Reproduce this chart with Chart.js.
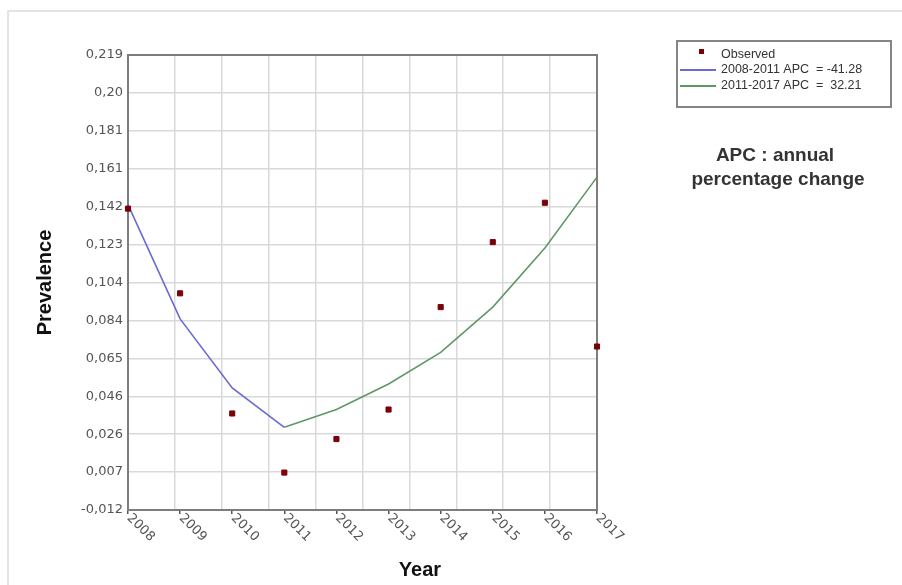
<!DOCTYPE html>
<html>
<head>
<meta charset="utf-8">
<title>Prevalence - APC</title>
<script src="https://cdn.jsdelivr.net/npm/chart.js@4.4.1/dist/chart.umd.min.js"></script>
<style>
  html, body { margin: 0; padding: 0; background: #fff; }
  #wrap { width: 902px; height: 585px; position: relative; }
</style>
</head>
<body>
<div id="wrap"><canvas id="apcChart" width="902" height="585"></canvas></div>
<script>
// data
var years = [2008, 2009, 2010, 2011, 2012, 2013, 2014, 2015, 2016, 2017];
var observed = [0.141, 0.098, 0.037, 0.007, 0.024, 0.039, 0.091, 0.124, 0.144, 0.071];

var fitYears1 = [2008, 2009, 2010, 2011];
var fit1 = [0.143, 0.085, 0.050, 0.030];

var fitYears2 = [2011, 2012, 2013, 2014, 2015, 2016, 2017];
var fit2 = [0.030, 0.039, 0.052, 0.068, 0.091, 0.121, 0.157];

var yTickLabels = ['-0,012', '0,007', '0,026', '0,046', '0,065', '0,084', '0,104',
                   '0,123', '0,142', '0,161', '0,181', '0,20', '0,219'];
var seriesLabels = ['Observed', '2008-2011 APC  = -41.28', '2011-2017 APC  =  32.21'];
var noteLines = ['APC : annual', 'percentage change'];

function toPoints(xs, ys){
  return xs.map(function(x, i){ return {x: x, y: ys[i]}; });
}

var tickFont = '13px "DejaVu Sans", sans-serif';

var extrasPlugin = {
  id: 'extras',
  beforeDatasetsDraw: function(chart){
    var ctx = chart.ctx, a = chart.chartArea;
    ctx.save();
    // plot frame
    ctx.strokeStyle = '#7d7d7d';
    ctx.lineWidth = 2;
    ctx.strokeRect(a.left, a.top, a.right - a.left, a.bottom - a.top);
    ctx.restore();
  },
  afterDraw: function(chart){
    var ctx = chart.ctx, a = chart.chartArea;
    var xs = chart.scales.x;
    ctx.save();

    // light outer frame of the picture
    ctx.strokeStyle = '#dcdcdc';
    ctx.lineWidth = 1.5;
    ctx.beginPath();
    ctx.moveTo(8, 585); ctx.lineTo(8, 11); ctx.lineTo(902, 11);
    ctx.stroke();

    // rotated year labels
    ctx.fillStyle = '#555';
    ctx.font = tickFont;
    ctx.textAlign = 'left';
    ctx.textBaseline = 'middle';
    years.forEach(function(yr){
      var px = xs.getPixelForValue(yr);
      ctx.save();
      ctx.translate(px + 1, a.bottom + 6);
      ctx.rotate(Math.PI / 4);
      ctx.fillText(String(yr), 0, 0);
      ctx.restore();
    });

    // x title
    ctx.fillStyle = '#111';
    ctx.font = 'bold 20px "Liberation Sans", Arial, sans-serif';
    ctx.textAlign = 'center';
    ctx.textBaseline = 'middle';
    ctx.fillText('Year', 420, 570);

    // legend box
    var ds = chart.data.datasets;
    ctx.strokeStyle = '#858585';
    ctx.lineWidth = 2;
    ctx.strokeRect(677, 41, 214, 66);
    ctx.font = '12.5px "Liberation Sans", Arial, sans-serif';
    ctx.textAlign = 'left';
    ctx.fillStyle = '#333';
    ctx.fillStyle = ds[0].backgroundColor;
    ctx.fillRect(699, 49, 5, 5);
    ctx.fillStyle = '#333';
    ctx.fillText(ds[0].label, 721, 55);
    [1, 2].forEach(function(k, j){
      var yy = 70 + j * 16;
      ctx.strokeStyle = ds[k].borderColor;
      ctx.lineWidth = 2;
      ctx.beginPath();
      ctx.moveTo(680, yy); ctx.lineTo(716, yy);
      ctx.stroke();
      ctx.fillStyle = '#333';
      ctx.fillText(ds[k].label, 721, yy);
    });

    // note on the right
    ctx.fillStyle = '#333';
    ctx.font = 'bold 19px "Liberation Sans", Arial, sans-serif';
    ctx.textAlign = 'center';
    ctx.textBaseline = 'alphabetic';
    ctx.fillText(noteLines[0], 775, 161);
    ctx.fillText(noteLines[1], 778, 185);

    ctx.restore();
  }
};

var ctx = document.getElementById('apcChart').getContext('2d');
var apcChart = new Chart(ctx, {
  type: 'scatter',
  data: {
    datasets: [{
      label: seriesLabels[0],
      data: toPoints(years, observed),
      backgroundColor: '#7a0008',
      borderColor: '#7a0008',
      pointStyle: 'rect',
      pointRadius: 3.6,
      showLine: false,
      clip: false
    }, {
      label: seriesLabels[1],
      data: toPoints(fitYears1, fit1),
      borderColor: '#6a6ad4',
      backgroundColor: '#6a6ad4',
      borderWidth: 1.6,
      pointRadius: 0,
      showLine: true,
      clip: false
    }, {
      label: seriesLabels[2],
      data: toPoints(fitYears2, fit2),
      borderColor: '#5f9866',
      backgroundColor: '#5f9866',
      borderWidth: 1.6,
      pointRadius: 0,
      showLine: true,
      clip: false
    }]
  },
  options: {
    responsive: false,
    animation: false,
    layout: { padding: { left: 0, top: 55, right: 305, bottom: 0 } },
    plugins: { legend: { display: false }, tooltip: { enabled: false } },
    scales: {
      x: {
        type: 'linear',
        position: 'bottom',
        min: 2008,
        max: 2017,
        afterFit: function(s){ s.height = 75; },
        border: { display: false },
        grid: { drawOnChartArea: false, drawTicks: true, tickLength: 4, color: '#555', lineWidth: 1.5 },
        ticks: { stepSize: 1, callback: function(){ return ''; } }
      },
      xg: {
        type: 'linear',
        position: 'top',
        min: 0,
        max: 10,
        afterFit: function(s){ s.height = 0; },
        border: { display: false },
        grid: { color: '#d9d9d9', lineWidth: 1.5, drawTicks: false },
        ticks: { display: false, stepSize: 1 }
      },
      y: {
        min: -0.012,
        max: 0.219,
        afterFit: function(s){ s.width = 128; },
        border: { display: false },
        grid: { color: '#d9d9d9', lineWidth: 1.5, drawTicks: false },
        ticks: {
          stepSize: 0.01925,
          padding: 5,
          color: '#555',
          font: { family: '"DejaVu Sans", sans-serif', size: 13 },
          callback: function(v, i){ return yTickLabels[i]; }
        },
        title: {
          display: true,
          text: 'Prevalence',
          color: '#111',
          font: { family: '"Liberation Sans", Arial, sans-serif', size: 20, weight: 'bold' },
          padding: { top: 33, bottom: 0 }
        }
      }
    }
  },
  plugins: [extrasPlugin]
});
</script>
</body>
</html>
